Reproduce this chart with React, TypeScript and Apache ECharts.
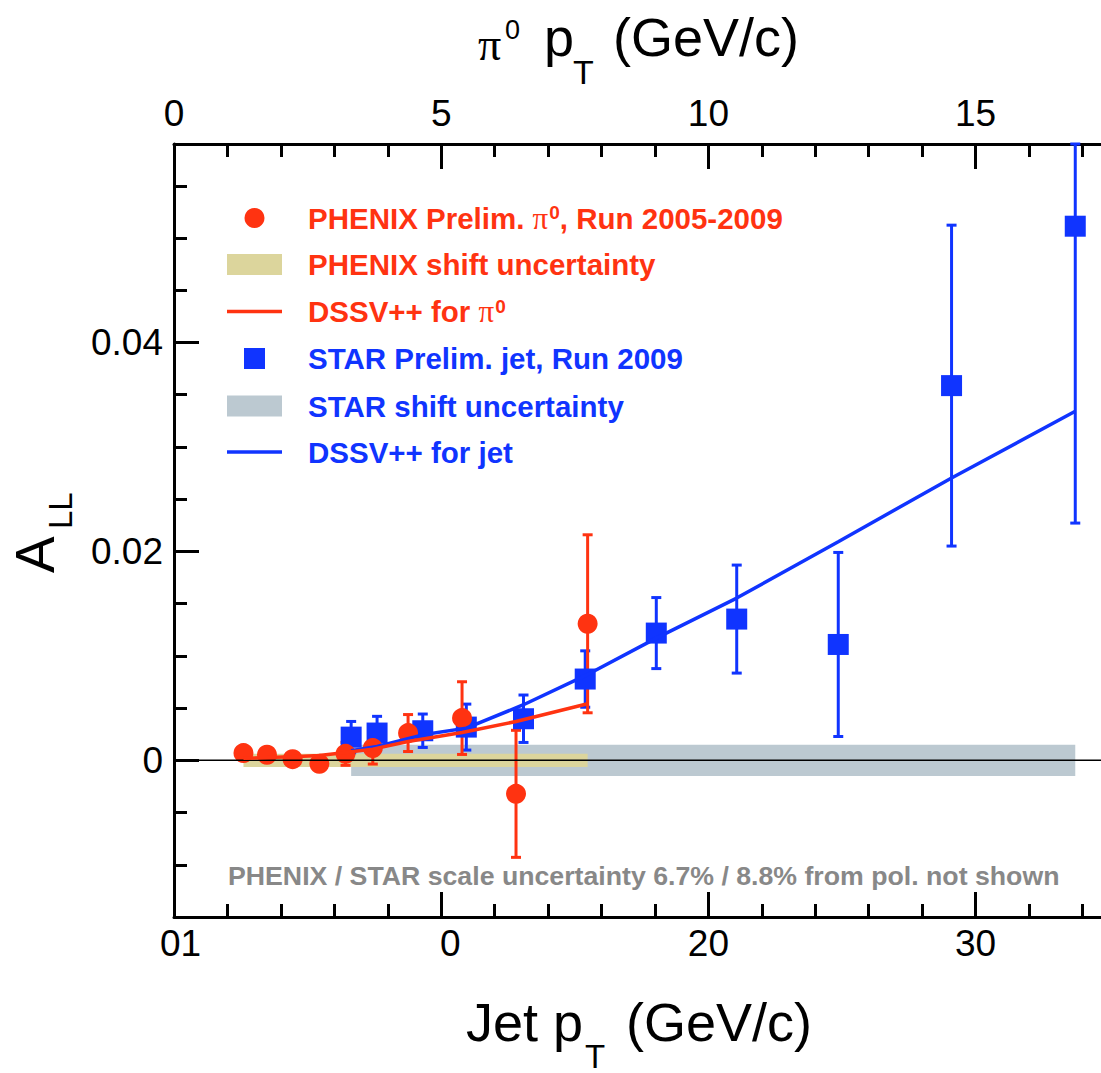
import React, { useEffect, useRef } from 'react';
import * as echarts from 'echarts';

const RED = '#ff3311';
const BLUE = '#1034ff';
const PHENIX_BAND_COLOR = '#dcd59c';
const STAR_BAND_COLOR = '#bcc9d1';
const FONT = "'Liberation Sans', Arial, Helvetica, sans-serif";
const SERIF = "'Liberation Serif', 'Times New Roman', serif";

// ---- PHENIX pi0 (top axis: pi0 pT) ----
const phenixPt = [1.30, 1.74, 2.22, 2.72, 3.21, 3.72, 4.38, 5.39, 6.40, 7.74];
const phenixAll = [0.00069, 0.00053, 0.00011, -0.00034, 0.00062, 0.00117, 0.00261, 0.00404, -0.00321, 0.01307];
const phenixErr = [0.0005, 0.0005, 0.0005, 0.0005, 0.0011, 0.00153, 0.00177, 0.00348, 0.00608, 0.00852];
const phenixDssv = [0.0002, 0.00026, 0.00035, 0.00047, 0.00075, 0.00107, 0.0018, 0.00266, 0.00372, 0.00541];
const phenixShiftHalf = 0.00064;

// ---- STAR jets (bottom axis: jet pT) ----
const starPt = [6.63, 7.60, 9.31, 10.94, 13.08, 15.39, 18.05, 21.06, 24.86, 29.10, 33.73];
const starAll = [0.00222, 0.00261, 0.00283, 0.00318, 0.00398, 0.00778, 0.01218, 0.01352, 0.01109, 0.03587, 0.05113];
const starErr = [0.0015, 0.0016, 0.0016, 0.0022, 0.00227, 0.0027, 0.0034, 0.00517, 0.00881, 0.01536, 0.02842];
const starDssv = [0.00092, 0.00132, 0.00244, 0.00308, 0.00532, 0.0081, 0.0117, 0.01553, 0.02093, 0.02703, 0.03341];
const starShiftHalf = 0.0015;

// ---- axes ----
const jetMin = 0;
const jetMax = 35;
const pi0Min = 0;
const pi0Max = 17.5;
const yMin = -0.015;
const yMax = 0.059;
const jetMajor = [0, 10, 20, 30];
const jetLabels = ['01', '0', '20', '30'];
const pi0Major = [0, 5, 10, 15];
const pi0Labels = ['0', '5', '10', '15'];
const yMajor = [0, 0.02, 0.04];
const yLabels = ['0', '0.02', '0.04'];

const NAME_PHENIX = 'PHENIX Prelim. π0, Run 2005-2009';
const NAME_PHENIX_BAND = 'PHENIX shift uncertainty';
const NAME_PHENIX_DSSV = 'DSSV++ for π0';
const NAME_STAR = 'STAR Prelim. jet, Run 2009';
const NAME_STAR_BAND = 'STAR shift uncertainty';
const NAME_STAR_DSSV = 'DSSV++ for jet';

const idxOf = (arr: number[], v: number) => arr.findIndex((a) => Math.abs(a - v) < 1e-9);

const tickLine = { color: '#000', width: 3 };
const labelFont = { fontFamily: FONT, fontSize: 37, color: '#000' };

function errorBarRender(color: string) {
  return (params: any, api: any) => {
    const x = api.value(0);
    const y = api.value(1);
    const e = api.value(2);
    const top = api.coord([x, y + e]);
    const bot = api.coord([x, y - e]);
    const cs = params.coordSys;
    const yTop = Math.max(top[1], cs.y);
    const yBot = Math.min(bot[1], cs.y + cs.height);
    const hw = 5;
    const st = { stroke: color, lineWidth: 3 };
    return {
      type: 'group',
      children: [
        { type: 'line', shape: { x1: top[0], y1: yTop, x2: top[0], y2: yBot }, style: st },
        { type: 'line', shape: { x1: top[0] - hw, y1: yTop, x2: top[0] + hw, y2: yTop }, style: st },
        { type: 'line', shape: { x1: top[0] - hw, y1: yBot, x2: top[0] + hw, y2: yBot }, style: st },
      ],
    };
  };
}

function bandRender(xs: number[], half: number, color: string) {
  return (params: any, api: any) => {
    if (params.dataIndex !== 0) return { type: 'group', children: [] };
    const x0 = xs[0];
    const x1 = xs[xs.length - 1];
    const p1 = api.coord([x0, half]);
    const p2 = api.coord([x1, half]);
    const p3 = api.coord([x1, -half]);
    const p4 = api.coord([x0, -half]);
    return { type: 'polygon', shape: { points: [p1, p2, p3, p4] }, style: { fill: color } };
  };
}

const legendText = (color: string) => ({
  fontFamily: FONT,
  fontWeight: 'bold',
  fontSize: 29.5,
  lineHeight: 30,
  color,
  padding: [0, 0, 0, 21],
  rich: {
    p: { fontFamily: SERIF, fontWeight: 'normal', fontSize: 31, lineHeight: 30, color, padding: [0, 1, 0, 0] },
    s: { fontFamily: FONT, fontWeight: 'bold', fontSize: 19, lineHeight: 16, verticalAlign: 'top', color },
  },
});

const piFormatter = (name: string) => name.replace('π0', '{p|π}{s|0}');

// left offset compensates for icons narrower than itemWidth (legend aligns on content bounds)
function makeLegend(left: number, top: number, itemHeight: number, name: string, icon: string, color: string) {
  return {
    show: true,
    orient: 'horizontal',
    left,
    top,
    padding: 0,
    itemWidth: 55,
    itemHeight,
    selectedMode: false,
    symbolKeepAspect: true,
    itemStyle: { borderWidth: 0, opacity: 1 },
    data: [{ name, icon }],
    formatter: piFormatter,
    textStyle: legendText(color),
  };
}

export default function App() {
  const ref = useRef<HTMLDivElement>(null);
  useEffect(() => {
    document.body.style.margin = '0';
    if (!ref.current) return;
    const chart = echarts.init(ref.current, undefined, { renderer: 'svg' });

    const option: any = {
      animation: false,
      grid: { left: 174, top: 144, width: 935.2, height: 773, show: false, containLabel: false, outerBoundsMode: 'none' },
      xAxis: [
        {
          type: 'value', position: 'bottom', min: jetMin, max: jetMax, interval: 2,
          axisLine: { show: true, onZero: false, lineStyle: tickLine },
          axisTick: { show: true, inside: true, length: 13, lineStyle: tickLine },
          axisLabel: {
            show: true, customValues: jetMajor, margin: 8, ...labelFont,
            formatter: (v: number) => {
              const i = idxOf(jetMajor, v);
              const s = i >= 0 ? jetLabels[i] : '';
              if (i === 0) return `{a|${s}}`;
              if (i === 1) return `{b|${s}}`;
              return s;
            },
            rich: {
              a: { ...labelFont, padding: [0, 0, 0, 13] },
              b: { ...labelFont, padding: [0, 0, 0, 18] },
            },
          },
          splitLine: { show: false },
        },
        {
          type: 'value', position: 'bottom', min: jetMin, max: jetMax,
          axisLine: { show: false, onZero: false },
          axisTick: { show: true, inside: true, length: 25, customValues: jetMajor, lineStyle: tickLine },
          axisLabel: { show: false },
          splitLine: { show: false },
        },
        {
          type: 'value', position: 'top', min: pi0Min, max: pi0Max, interval: 1,
          axisLine: { show: true, onZero: false, lineStyle: tickLine },
          axisTick: { show: true, inside: true, length: 13, lineStyle: tickLine },
          axisLabel: {
            show: true, customValues: pi0Major, margin: 12, ...labelFont,
            formatter: (v: number) => {
              const i = idxOf(pi0Major, v);
              return i >= 0 ? pi0Labels[i] : '';
            },
          },
          splitLine: { show: false },
        },
        {
          type: 'value', position: 'top', min: pi0Min, max: pi0Max,
          axisLine: { show: false, onZero: false },
          axisTick: { show: true, inside: true, length: 25, customValues: pi0Major, lineStyle: tickLine },
          axisLabel: { show: false },
          splitLine: { show: false },
        },
      ],
      yAxis: [
        {
          type: 'value', position: 'left', min: yMin, max: yMax, interval: 0.005,
          axisLine: { show: true, onZero: false, lineStyle: tickLine },
          axisTick: { show: true, inside: true, length: 13, lineStyle: tickLine },
          axisLabel: {
            show: true, customValues: yMajor, margin: 11, ...labelFont,
            formatter: (v: number) => {
              const i = idxOf(yMajor, v);
              return i >= 0 ? yLabels[i] : '';
            },
          },
          splitLine: { show: false },
        },
        {
          type: 'value', position: 'left', min: yMin, max: yMax,
          axisLine: { show: false, onZero: false },
          axisTick: { show: true, inside: true, length: 25, customValues: yMajor, lineStyle: tickLine },
          axisLabel: { show: false },
          splitLine: { show: false },
        },
      ],
      legend: [
        makeLegend(244.5, 202.5, 20, NAME_PHENIX, 'circle', RED),
        makeLegend(227, 249.5, 21, NAME_PHENIX_BAND, 'rect', RED),
        makeLegend(227, 296, 3.5, NAME_PHENIX_DSSV, 'rect', RED),
        makeLegend(244, 343.5, 21, NAME_STAR, 'path://M0,0L1,0L1,1L0,1Z', BLUE),
        makeLegend(227, 391, 21, NAME_STAR_BAND, 'rect', BLUE),
        makeLegend(227, 437, 3.5, NAME_STAR_DSSV, 'rect', BLUE),
      ],
      series: [
        {
          name: NAME_STAR_BAND, type: 'custom', xAxisIndex: 0, yAxisIndex: 0,
          color: STAR_BAND_COLOR, itemStyle: { color: STAR_BAND_COLOR },
          encode: { x: 0, y: 1 },
          data: starPt.map((x) => [x, 0]),
          renderItem: bandRender(starPt, starShiftHalf, STAR_BAND_COLOR),
          silent: true,
        },
        {
          name: NAME_PHENIX_BAND, type: 'custom', xAxisIndex: 2, yAxisIndex: 0,
          color: PHENIX_BAND_COLOR, itemStyle: { color: PHENIX_BAND_COLOR },
          encode: { x: 0, y: 1 },
          data: phenixPt.map((x) => [x, 0]),
          renderItem: bandRender(phenixPt, phenixShiftHalf, PHENIX_BAND_COLOR),
          silent: true,
        },
        {
          name: 'zero', type: 'line', xAxisIndex: 0, yAxisIndex: 0,
          data: [[jetMin, 0], [jetMax, 0]], symbol: 'none',
          lineStyle: { color: '#000', width: 1.6 }, silent: true,
        },
        {
          name: 'starErr', type: 'custom', xAxisIndex: 0, yAxisIndex: 0,
          encode: { x: 0, y: 1 },
          data: starPt.map((x, i) => [x, starAll[i], starErr[i]]),
          renderItem: errorBarRender(BLUE), silent: true,
        },
        {
          name: NAME_STAR, type: 'scatter', xAxisIndex: 0, yAxisIndex: 0,
          color: BLUE, itemStyle: { color: BLUE, opacity: 1 },
          symbol: 'rect', symbolSize: 21,
          data: starPt.map((x, i) => [x, starAll[i]]),
        },
        {
          name: NAME_STAR_DSSV, type: 'line', xAxisIndex: 0, yAxisIndex: 0,
          color: BLUE, itemStyle: { color: BLUE },
          symbol: 'none', lineStyle: { color: BLUE, width: 3.5 },
          data: starPt.map((x, i) => [x, starDssv[i]]),
        },
        {
          name: 'phenixErr', type: 'custom', xAxisIndex: 2, yAxisIndex: 0,
          encode: { x: 0, y: 1 },
          data: phenixPt.map((x, i) => [x, phenixAll[i], phenixErr[i]]),
          renderItem: errorBarRender(RED), silent: true,
        },
        {
          name: NAME_PHENIX, type: 'scatter', xAxisIndex: 2, yAxisIndex: 0,
          color: RED, itemStyle: { color: RED, opacity: 1 },
          symbol: 'circle', symbolSize: 20,
          data: phenixPt.map((x, i) => [x, phenixAll[i]]),
        },
        {
          name: NAME_PHENIX_DSSV, type: 'line', xAxisIndex: 2, yAxisIndex: 0,
          color: RED, itemStyle: { color: RED },
          symbol: 'none', lineStyle: { color: RED, width: 3.5 },
          data: phenixPt.map((x, i) => [x, phenixDssv[i]]),
        },
      ],
      graphic: [
        // top axis title: π0 pT (GeV/c)
        { type: 'text', x: 478, y: 44, style: { text: 'π', fontFamily: SERIF, fontSize: 46, fill: '#000', align: 'left', verticalAlign: 'middle' } },
        { type: 'text', x: 505, y: 30, style: { text: '0', fontFamily: FONT, fontSize: 27, fill: '#000', align: 'left', verticalAlign: 'middle' } },
        { type: 'text', x: 544, y: 37, style: { text: 'p', fontFamily: FONT, fontSize: 54, fill: '#000', align: 'left', verticalAlign: 'middle' } },
        { type: 'text', x: 573, y: 72, style: { text: 'T', fontFamily: FONT, fontSize: 34, fill: '#000', align: 'left', verticalAlign: 'middle' } },
        { type: 'text', x: 613, y: 37, style: { text: '(GeV/c)', fontFamily: FONT, fontSize: 54, fill: '#000', align: 'left', verticalAlign: 'middle' } },
        // bottom axis title: Jet pT (GeV/c)
        { type: 'text', x: 466, y: 1022, style: { text: 'Jet p', fontFamily: FONT, fontSize: 54, fill: '#000', align: 'left', verticalAlign: 'middle' } },
        { type: 'text', x: 585, y: 1056, style: { text: 'T', fontFamily: FONT, fontSize: 33, fill: '#000', align: 'left', verticalAlign: 'middle' } },
        { type: 'text', x: 626, y: 1022, style: { text: '(GeV/c)', fontFamily: FONT, fontSize: 54, fill: '#000', align: 'left', verticalAlign: 'middle' } },
        // y axis title: A_LL (rotated)
        { type: 'text', x: 35, y: 573, rotation: Math.PI / 2, style: { text: 'A', fontFamily: FONT, fontSize: 55, fill: '#000', align: 'left', verticalAlign: 'middle' } },
        { type: 'text', x: 60, y: 529, rotation: Math.PI / 2, style: { text: 'LL', fontFamily: FONT, fontSize: 33, fill: '#000', align: 'left', verticalAlign: 'middle' } },
        // footnote
        { type: 'text', x: 228, y: 876, style: { text: 'PHENIX / STAR scale uncertainty 6.7% / 8.8% from pol. not shown', fontFamily: FONT, fontWeight: 'bold', fontSize: 26.7, fill: '#888888', align: 'left', verticalAlign: 'middle' } },
      ],
    };

    chart.setOption(option);
    return () => {
      chart.dispose();
    };
  }, []);

  return <div ref={ref} style={{ width: 1101, height: 1073 }} />;
}
